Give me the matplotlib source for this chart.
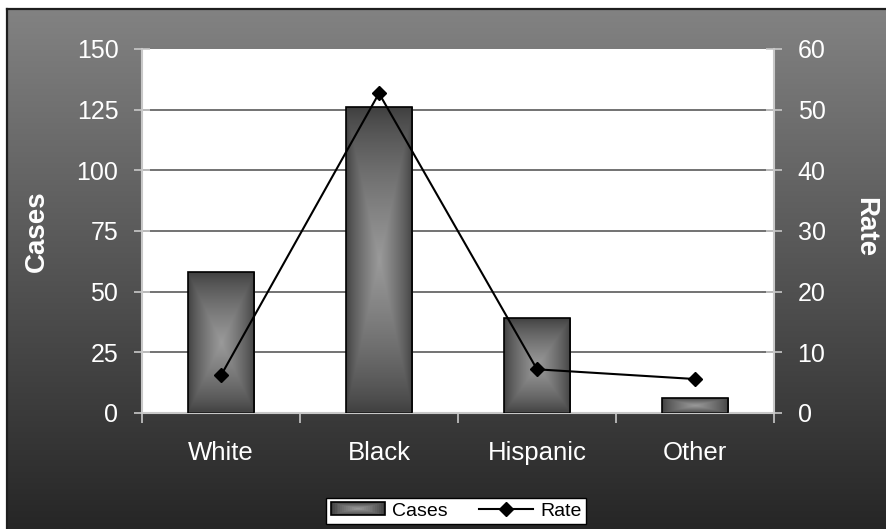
import numpy as np
import matplotlib
matplotlib.use("Agg")
import matplotlib.pyplot as plt
from matplotlib.colors import LinearSegmentedColormap
from matplotlib.legend_handler import HandlerBase
from matplotlib.patches import Rectangle
from matplotlib.lines import Line2D

# ---- data ----
categories = ["White", "Black", "Hispanic", "Other"]
cases = [58, 126, 39, 6]
rate = [6.2, 52.7, 7.2, 5.6]
case_ticks = [0, 25, 50, 75, 100, 125, 150]
rate_ticks = [0, 10, 20, 30, 40, 50, 60]

plt.rcParams['font.family'] = ['Liberation Sans', 'DejaVu Sans']

W, H, DPI = 886, 529, 100
fig = plt.figure(figsize=(W / DPI, H / DPI), dpi=DPI, facecolor='white')

# ---- dark gradient backdrop ----
bg = fig.add_axes([8 / W, 0, 1 - 8 / W, 1 - 10 / H], zorder=-10)
grad = np.linspace(0, 1, 256).reshape(-1, 1)
bg_cmap = LinearSegmentedColormap.from_list('bg', ['#828282', '#262626'])
bg.imshow(grad, aspect='auto', cmap=bg_cmap, extent=[0, 1, 0, 1], origin='upper')
bg.set_axis_off()
fig.add_artist(Line2D([7 / W, 7 / W], [0, 1 - 9 / H], transform=fig.transFigure,
                      color='#1e1e1e', lw=1.6))
fig.add_artist(Line2D([7 / W, 1], [1 - 9 / H, 1 - 9 / H], transform=fig.transFigure,
                      color='#1e1e1e', lw=1.6))

# ---- main axes ----
ax = fig.add_axes([142 / W, 1 - 413 / H, (774 - 142) / W, (413 - 49) / H])
ax.set_facecolor('white')
x = np.arange(len(categories))

bar_cmap = LinearSegmentedColormap.from_list('bar', ['#3e3e3e', '#9a9a9a'])
bars = ax.bar(x, cases, width=0.42, color='none', edgecolor='black', lw=1.2, zorder=3)

# centre-out shading inside each bar
n = 200
u = np.linspace(-1, 1, n)
uu, vv = np.meshgrid(u, u)
shade = (1 - np.maximum(np.abs(uu), np.abs(vv))) ** 0.75
for b in bars:
    x0, y0 = b.get_x(), b.get_y()
    x1, y1 = x0 + b.get_width(), y0 + b.get_height()
    im = ax.imshow(shade, cmap=bar_cmap, extent=[x0, x1, y0, y1], aspect='auto',
                   zorder=2, interpolation='bilinear', vmin=0, vmax=1)
    im.set_clip_path(b)

ax.set_xlim(-0.5, len(categories) - 0.5)
ax.set_ylim(case_ticks[0], case_ticks[-1])
ax.set_aspect('auto')

# horizontal grid
for t in case_ticks[1:-1]:
    ax.axhline(t, color='#5a5a5a', lw=1.2, zorder=1)

spine_col = '#c8c8c8'
for s in ['left', 'bottom']:
    ax.spines[s].set_color(spine_col)
    ax.spines[s].set_linewidth(1.5)
ax.spines['top'].set_visible(False)
ax.spines['right'].set_visible(False)

ax.set_yticks(case_ticks)
ax.tick_params(axis='y', direction='inout', length=12, width=1.2, color=spine_col,
               labelcolor='white', labelsize=18, pad=11)
ax.set_xticks(x)
ax.set_xticklabels(categories)
ax.set_xticks(np.arange(len(categories) + 1) - 0.5, minor=True)
ax.tick_params(axis='x', which='major', length=0, labelcolor='white', labelsize=18.5, pad=20)
ax.tick_params(axis='x', which='minor', direction='out', length=7, width=1.2, color=spine_col)

# ---- rate axis ----
ax2 = ax.twinx()
ax2.patch.set_visible(False)
ax2.plot(x, rate, color='black', marker='D', ms=7, lw=1.5, zorder=5)
ax2.set_ylim(rate_ticks[0], rate_ticks[-1])
ax2.set_yticks(rate_ticks)
for s in ['left', 'bottom', 'top']:
    ax2.spines[s].set_visible(False)
ax2.spines['right'].set_color(spine_col)
ax2.spines['right'].set_linewidth(1.5)
ax2.tick_params(axis='y', direction='inout', length=12, width=1.2, color=spine_col,
                labelcolor='white', labelsize=18, pad=11)

# ---- axis titles ----
fig.text(37 / W, 1 - 231 / H, 'Cases', rotation=90, ha='center', va='center',
         color='white', fontsize=20, fontweight='bold')
fig.text(865 / W, 1 - 227 / H, 'Rate', rotation=-90, ha='center', va='center',
         color='white', fontsize=20, fontweight='bold')


# ---- legend ----
class GradientHandle:
    pass


class HandlerGradient(HandlerBase):
    def create_artists(self, legend, orig_handle, xdescent, ydescent, width, height,
                       fontsize, trans):
        arts = []
        steps = 14
        for i in range(steps):
            f = i / steps
            dx, dy = width * f / 2, height * f / 2
            arts.append(Rectangle((-xdescent + dx, -ydescent + dy), width - 2 * dx,
                                  height - 2 * dy, facecolor=bar_cmap(f ** 0.75),
                                  edgecolor='none', transform=trans))
        arts.append(Rectangle((-xdescent, -ydescent), width, height, facecolor='none',
                              edgecolor='black', lw=1.2, transform=trans))
        return arts


rate_handle = Line2D([], [], color='black', marker='D', ms=7, lw=1.5)
leg = fig.legend([GradientHandle(), rate_handle], ['Cases', 'Rate'],
                 handler_map={GradientHandle: HandlerGradient()},
                 loc='center', bbox_to_anchor=(456 / W, 1 - 511 / H), ncol=2,
                 frameon=True, fancybox=False, edgecolor='black', facecolor='white',
                 framealpha=1, fontsize=14, handlelength=2.8, handleheight=0.6,
                 handletextpad=0.35, columnspacing=1.6, borderpad=0.25, borderaxespad=0)
leg.get_frame().set_linewidth(1.0)

fig.savefig('out.png', dpi=DPI, facecolor=fig.get_facecolor())
